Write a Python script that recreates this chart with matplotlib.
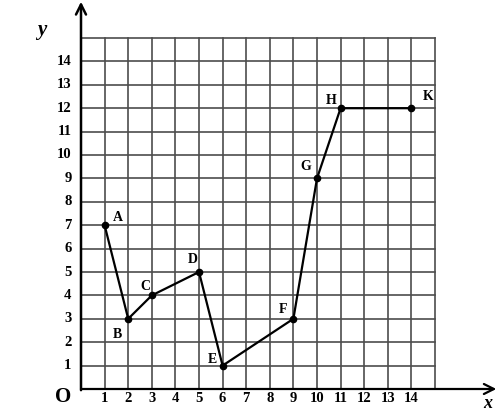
import matplotlib
matplotlib.use('Agg')
import matplotlib.pyplot as plt

names = ['A', 'B', 'C', 'D', 'E', 'F', 'G', 'H', 'K']
xs = [1, 2, 3, 5, 6, 9, 10, 11, 14]
ys = [7, 3, 4, 5, 1, 3, 9, 12, 12]
label_off = [(0.57, 0.35), (-0.47, -0.65), (-0.29, 0.4), (-0.25, 0.55),
             (-0.45, 0.28), (-0.44, 0.38), (-0.47, 0.49), (-0.41, 0.35),
             (0.7, 0.48)]
ticks = list(range(1, 15))

plt.rcParams['font.family'] = ['Liberation Serif', 'DejaVu Serif']

fig = plt.figure(figsize=(4.99, 4.15), dpi=100)
ax = fig.add_axes([0, 0, 1, 1])
ax.set_xlim(-81 / 23.6, 418 / 23.6)
ax.set_ylim(-26 / 23.4, 389 / 23.4)
ax.axis('off')

# grid 15 x 15
for k in range(16):
    ax.plot([k, k], [0, 15], color='#4d4d4d', lw=1.2, zorder=1)
    ax.plot([0, 15], [k, k], color='#4d4d4d', lw=1.2, zorder=1)

# axes with arrows
ax.annotate('', xy=(17.6, 0), xytext=(0, 0),
            arrowprops=dict(arrowstyle='->', lw=1.6, color='black',
                            mutation_scale=18, shrinkA=0, shrinkB=0))
ax.annotate('', xy=(0, 16.55), xytext=(0, -0.05),
            arrowprops=dict(arrowstyle='->', lw=1.8, color='black',
                            mutation_scale=18, shrinkA=0, shrinkB=0))

ax.plot(xs, ys, color='black', lw=1.6, zorder=3)
ax.plot(xs, ys, 'o', color='black', ms=4.5, zorder=4)

for n, x, y, (dx, dy) in zip(names, xs, ys, label_off):
    ax.text(x + dx, y + dy, n, fontsize=10, fontweight='bold',
            ha='center', va='center')

for t in ticks:
    ax.text(t, -0.42, str(t), fontsize=10.5, fontweight='bold',
            ha='center', va='center')
    ax.text(-0.4, t, str(t), fontsize=10.5, fontweight='bold',
            ha='right', va='center')

ax.text(-0.76, -0.36, 'O', fontsize=15, fontweight='bold',
        ha='center', va='center')
ax.text(-1.65, 15.34, 'y', fontsize=15, fontweight='bold', style='italic',
        ha='center', va='center')
ax.text(17.25, -0.62, 'x', fontsize=13, fontweight='bold', style='italic',
        ha='center', va='center')

fig.savefig('out.png', dpi=100)
